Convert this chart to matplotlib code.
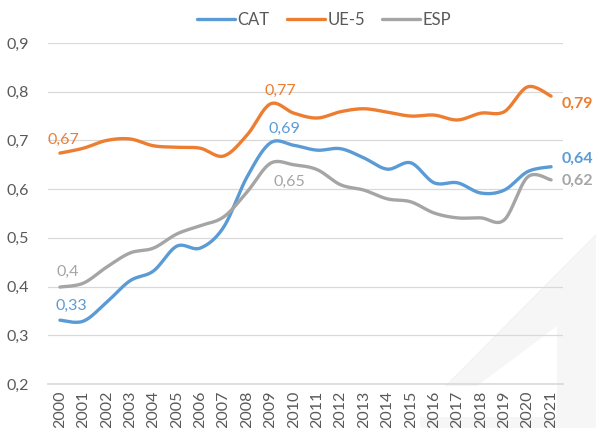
import numpy as np
import matplotlib
matplotlib.use("Agg")
import matplotlib.pyplot as plt
from matplotlib.patches import Polygon

plt.rcParams["font.family"] = ["Lato", "DejaVu Sans"]

# data
years = [str(y) for y in range(2000, 2022)]
cat = [0.331, 0.329, 0.368, 0.412, 0.432, 0.483, 0.479, 0.522, 0.625, 0.695, 0.690,
       0.680, 0.683, 0.664, 0.641, 0.654, 0.613, 0.613, 0.592, 0.598, 0.636, 0.646]
ue5 = [0.674, 0.684, 0.700, 0.703, 0.689, 0.686, 0.684, 0.668, 0.711, 0.775, 0.756,
       0.746, 0.759, 0.765, 0.758, 0.750, 0.752, 0.742, 0.756, 0.759, 0.810, 0.791]
esp = [0.399, 0.407, 0.440, 0.469, 0.479, 0.508, 0.525, 0.543, 0.594, 0.653, 0.650,
       0.640, 0.609, 0.598, 0.580, 0.574, 0.551, 0.541, 0.541, 0.537, 0.625, 0.619]
y_ticks = [0.2, 0.3, 0.4, 0.5, 0.6, 0.7, 0.8, 0.9]

BLUE = "#5B9BD5"
ORANGE = "#ED7D31"
GRAY = "#A5A5A5"
TXT = "#595959"
FS = 11.5


def smooth(xs, ys, n=20):
    # Excel-style smoothed line: cubic Bezier with Catmull-Rom control points
    xs = np.asarray(xs, float)
    ys = np.asarray(ys, float)
    px = np.concatenate([[xs[0]], xs, [xs[-1]]])
    py = np.concatenate([[ys[0]], ys, [ys[-1]]])
    outx, outy = [], []
    t = np.linspace(0, 1, n)
    for i in range(1, len(px) - 2):
        p0 = np.array([px[i], py[i]])
        p3 = np.array([px[i + 1], py[i + 1]])
        c1 = p0 + (np.array([px[i + 1], py[i + 1]]) - np.array([px[i - 1], py[i - 1]])) / 6
        c2 = p3 - (np.array([px[i + 2], py[i + 2]]) - p0) / 6
        b = ((1 - t) ** 3)[:, None] * p0 + (3 * (1 - t) ** 2 * t)[:, None] * c1 \
            + (3 * (1 - t) * t ** 2)[:, None] * c2 + (t ** 3)[:, None] * p3
        outx.extend(b[:, 0])
        outy.extend(b[:, 1])
    return outx, outy


fig = plt.figure(figsize=(5.96, 4.28), dpi=100)

# faint watermark shapes in the lower right corner (behind everything)
W, H = 596, 428
def fpoly(pts, **kw):
    fig.patches.append(Polygon([(x / W, 1 - y / H) for x, y in pts], closed=True,
                               transform=fig.transFigure, zorder=-5, **kw))
fpoly([(446, 386), (596, 235), (596, 297), (477, 386)], facecolor="#F6F6F6", edgecolor="none")
fpoly([(557, 327), (596, 290), (596, 428), (557, 428)], facecolor="#F6F6F6", edgecolor="none")
fpoly([(420, 417), (596, 417), (596, 428), (420, 428)], facecolor="#F6F6F6", edgecolor="none")
fig.lines.append(plt.Line2D([446 / W, 1.0], [1 - 386 / H, 1 - 235 / H], transform=fig.transFigure,
                            color="#E6E6E6", lw=0.6, zorder=-5))

ax = fig.add_axes([48 / W, 1 - 384 / H, 515 / W, 341 / H])
ax.set_facecolor("none")

x = np.arange(len(years))
for vals, color, name in [(cat, BLUE, "CAT"), (ue5, ORANGE, "UE-5"), (esp, GRAY, "ESP")]:
    sx, sy = smooth(x, vals)
    ax.plot(sx, sy, color=color, lw=2.4, label=name, solid_capstyle="round", zorder=3)

ax.set_xlim(-0.51, len(years) - 0.49)
ax.set_ylim(0.2, 0.9)
ax.set_yticks(y_ticks)
ax.set_yticklabels([f"{v:.1f}".replace(".", ",") for v in y_ticks])
ax.set_xticks(x)
ax.set_xticklabels(years, rotation=90)
ax.tick_params(axis="both", length=0, colors=TXT, labelsize=FS)
ax.tick_params(axis="y", pad=14)
ax.tick_params(axis="x", pad=5)
ax.grid(axis="y", color="#D9D9D9", lw=0.9)
ax.set_axisbelow(True)
for s in ["top", "right", "left"]:
    ax.spines[s].set_visible(False)
ax.spines["bottom"].set_color("#D9D9D9")
ax.spines["bottom"].set_linewidth(1.2)

# data labels
def lab(i, vals, txt, color, dx, dy, bold=False, ha="center"):
    ax.annotate(txt, (x[i], vals[i]), xytext=(dx, dy), textcoords="offset pixels",
                color=color, fontsize=FS, ha=ha, va="center",
                fontweight="bold" if bold else "normal")

lab(0, ue5, "0,67", ORANGE, 3, 13)
lab(0, esp, "0,4", GRAY, 8, 15)
lab(0, cat, "0,33", BLUE, 11, 14)
lab(9, ue5, "0,77", ORANGE, 10, 13)
lab(9, cat, "0,69", BLUE, 14, 14)
lab(9, esp, "0,65", GRAY, 19, -19)
lab(21, ue5, "0,79", ORANGE, 11, -8, bold=True, ha="left")
lab(21, cat, "0,64", BLUE, 11, 8, bold=True, ha="left")
lab(21, esp, "0,62", GRAY, 11, -1, bold=True, ha="left")

leg = fig.legend(loc="center", bbox_to_anchor=(324 / W, 1 - 20 / H), ncol=3, frameon=False,
                 fontsize=12, handlelength=2.3, handletextpad=0.15, columnspacing=1.0)
for t in leg.get_texts():
    t.set_color(TXT)

fig.savefig("out.png", dpi=100)
